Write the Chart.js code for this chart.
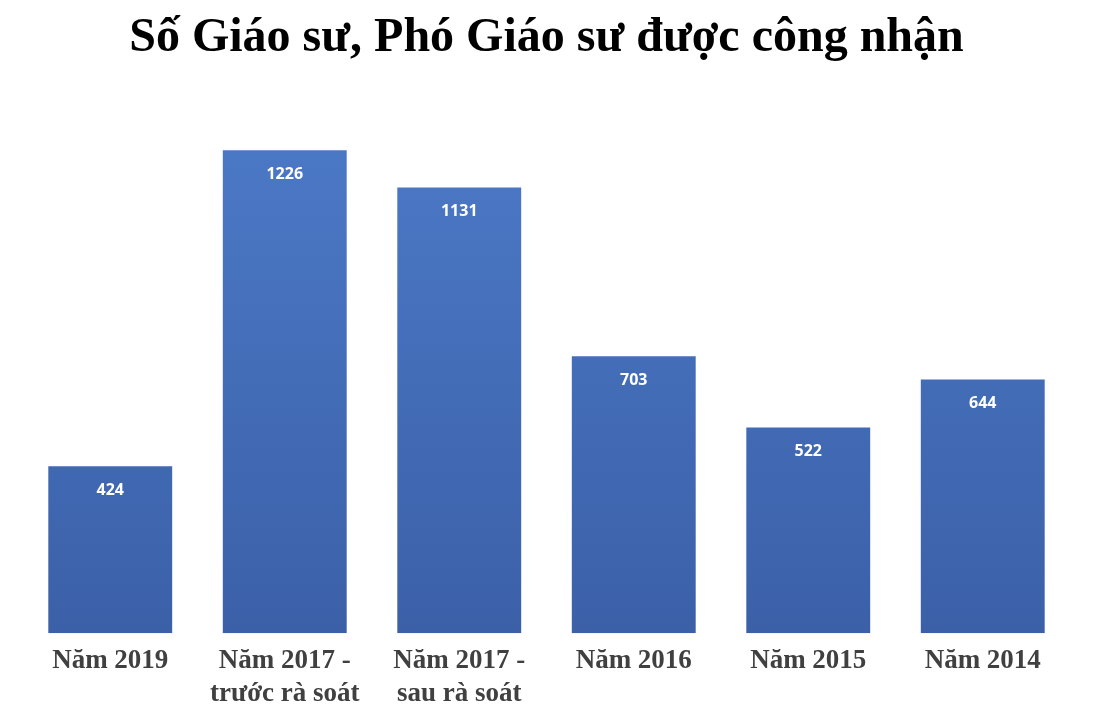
<!DOCTYPE html>
<html><head><meta charset="utf-8">
<script src="https://cdn.jsdelivr.net/npm/chart.js@4"></script>
<style>html,body{margin:0;padding:0;background:#fff}#w{width:1094px;height:716px}</style>
</head><body><div id="w"><canvas id="c"></canvas></div>
<script>
const categories = [["Năm 2019"], ["Năm 2017 -", "trước rà soát"], ["Năm 2017 -", "sau rà soát"], ["Năm 2016"], ["Năm 2015"], ["Năm 2014"]];
const values = [424, 1226, 1131, 703, 522, 644];
const titleText = "Số Giáo sư, Phó Giáo sư được công nhận";

const labelPlugin = {
  id: 'vals',
  afterDatasetsDraw(chart) {
    const ctx = chart.ctx;
    const meta = chart.getDatasetMeta(0);
    ctx.save();
    ctx.fillStyle = '#fff';
    ctx.font = 'bold 16px "Open Sans", sans-serif';
    ctx.textAlign = 'center';
    ctx.textBaseline = 'middle';
    meta.data.forEach((b, i) => ctx.fillText(String(values[i]), b.x, b.y + 24));
    ctx.restore();
  }
};

new Chart(document.getElementById('c'), {
  type: 'bar',
  data: { labels: categories, datasets: [{ data: values,
    backgroundColor: (c) => {
      const a = c.chart.chartArea; if (!a) return '#4472c4';
      const g = c.chart.ctx.createLinearGradient(0, a.top, 0, a.bottom);
      g.addColorStop(0, '#4d7bc9'); g.addColorStop(1, '#3b60a8'); return g;
    },
    barPercentage: 0.71, categoryPercentage: 1 }] },
  options: {
    responsive: true, maintainAspectRatio: false, animation: false,
    layout: { padding: { left: 23, right: 24, top: 0, bottom: 2 } },
    plugins: { legend: { display: false }, tooltip: { enabled: false },
      title: { display: true, text: titleText, color: '#000',
        font: { family: '"Liberation Serif", serif', size: 48, weight: 'bold' },
        padding: { top: 10, bottom: 14 } } },
    scales: {
      x: { grid: { display: false }, border: { display: false },
        ticks: { color: '#404040', font: { family: '"Liberation Serif", serif', size: 27, weight: 'bold' }, maxRotation: 0, autoSkip: false, padding: 4 } },
      y: { display: false, min: 0, max: 1400 }
    }
  },
  plugins: [labelPlugin]
});
</script></body></html>
